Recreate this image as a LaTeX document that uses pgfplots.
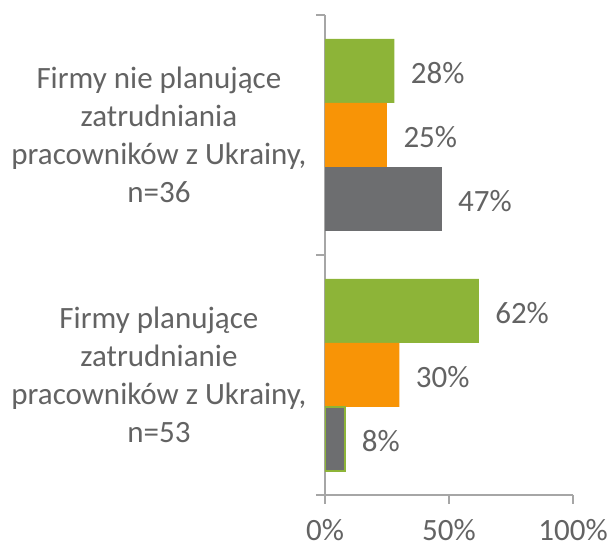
\documentclass[border=0pt]{standalone}
\usepackage{fontspec}
\setmainfont{Carlito}
\usepackage{pgfplots}
\pgfplotsset{compat=1.18}
\definecolor{barGreen}{RGB}{141,180,56}
\definecolor{barOrange}{RGB}{248,148,6}
\definecolor{barGray}{RGB}{109,110,112}
\definecolor{txt}{RGB}{99,99,99}
\definecolor{axc}{RGB}{166,166,166}
\begin{document}
\begin{tikzpicture}
\path[use as bounding box] (-325pt,-53pt) rectangle (285pt,495pt);
\begin{axis}[
  at={(0,0)}, anchor=south west,
  scale only axis, width=248pt, height=480pt,
  xbar, bar width=64pt,
  xmin=0, xmax=100, ymin=-0.5, ymax=1.5,
  axis lines=left,
  axis line style={-, draw=axc, line width=1.5pt},
  xtick={0,50,100},
  xticklabel={\pgfmathprintnumber{\tick}\%},
  xticklabel style={yshift=-12pt},
  ytick={-0.5,0.5,1.5}, yticklabels={},
  tick align=outside, major tick length=9pt,
  tick style={draw=axc, line width=1.5pt},
  extra y ticks={0,1},
  extra y tick labels={{Firmy planujące\\zatrudnianie\\pracowników z Ukrainy,\\n=53},
                       {Firmy nie planujące\\zatrudniania\\pracowników z Ukrainy,\\n=36}},
  extra y tick style={major tick length=0pt, tick style={draw=none},
    yticklabel style={align=center, xshift=-15pt}},
  every tick label/.append style={font=\fontsize{31}{38}\selectfont, text=txt},
  /pgf/number format/assume math mode=true,
  point meta=x,
  nodes near coords={\pgfmathprintnumber{\pgfplotspointmeta}\%},
  every node near coord/.append style={anchor=west, xshift=13pt, yshift=-2pt,
    font=\fontsize{31}{38}\selectfont, text=txt},
]
\addplot[fill=barGreen, draw=none, bar shift=64pt] coordinates {(62,0) (28,1)};
\addplot[fill=barOrange, draw=none, bar shift=0pt] coordinates {(30,0) (25,1)};
\addplot[fill=barGray, draw=none, bar shift=-64pt] coordinates {(47,1)};
\addplot[fill=barGray, draw=barGreen, line width=1.5pt, bar shift=-64pt] coordinates {(8,0)};
\end{axis}
\end{tikzpicture}
\end{document}
